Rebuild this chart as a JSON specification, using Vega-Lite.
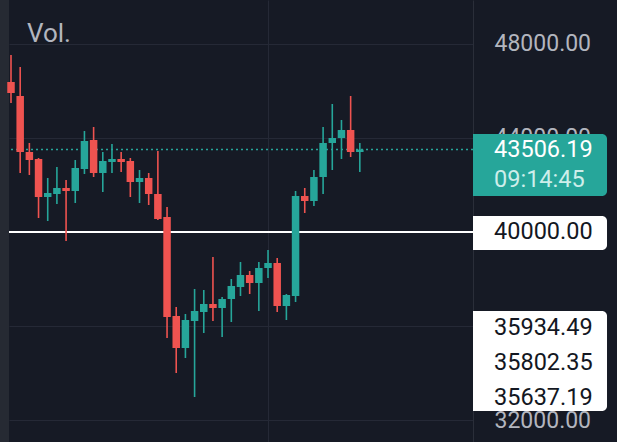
{
  "$schema": "https://vega.github.io/schema/vega-lite/v6.json",
  "width": 464,
  "height": 442,
  "autosize": "none",
  "padding": {"left": 9, "right": 144, "top": 0, "bottom": 0},
  "background": "#161a25",
  "title": {
    "text": "Vol.",
    "anchor": "start",
    "frame": "group",
    "offset": 0,
    "dx": 18,
    "dy": 68,
    "baseline": "alphabetic",
    "font": "Roboto",
    "fontSize": 26,
    "fontWeight": "normal",
    "color": "#b2b5be"
  },
  "datasets": {
    "candles": [
      {"i": 0, "open": 46383, "high": 47532, "low": 45489, "close": 45915},
      {"i": 1, "open": 45787, "high": 47021, "low": 42511, "close": 43404},
      {"i": 2, "open": 43404, "high": 43787, "low": 42426, "close": 43064},
      {"i": 3, "open": 43106, "high": 43150, "low": 40596, "close": 41489},
      {"i": 4, "open": 41489, "high": 42298, "low": 40468, "close": 41660},
      {"i": 5, "open": 41617, "high": 42766, "low": 41191, "close": 41872},
      {"i": 6, "open": 41872, "high": 42213, "low": 39617, "close": 41745},
      {"i": 7, "open": 41745, "high": 43064, "low": 41234, "close": 42723},
      {"i": 8, "open": 42681, "high": 44298, "low": 42468, "close": 43872},
      {"i": 9, "open": 43915, "high": 44468, "low": 42340, "close": 42511},
      {"i": 10, "open": 42511, "high": 43404, "low": 41702, "close": 43021},
      {"i": 11, "open": 42979, "high": 43745, "low": 42511, "close": 43106},
      {"i": 12, "open": 43106, "high": 43404, "low": 42553, "close": 42979},
      {"i": 13, "open": 43021, "high": 43149, "low": 41489, "close": 42128},
      {"i": 14, "open": 42128, "high": 42638, "low": 41234, "close": 42298},
      {"i": 15, "open": 42298, "high": 42511, "low": 41149, "close": 41617},
      {"i": 16, "open": 41617, "high": 43447, "low": 40511, "close": 40553},
      {"i": 17, "open": 40638, "high": 41064, "low": 35489, "close": 36383},
      {"i": 18, "open": 36426, "high": 36809, "low": 34000, "close": 35064},
      {"i": 19, "open": 35064, "high": 36511, "low": 34638, "close": 36255},
      {"i": 20, "open": 36213, "high": 37574, "low": 32979, "close": 36638},
      {"i": 21, "open": 36596, "high": 37532, "low": 35702, "close": 36936},
      {"i": 22, "open": 36936, "high": 38936, "low": 36213, "close": 36766},
      {"i": 23, "open": 36766, "high": 37234, "low": 35532, "close": 37149},
      {"i": 24, "open": 37149, "high": 38000, "low": 36170, "close": 37702},
      {"i": 25, "open": 37660, "high": 38723, "low": 37277, "close": 38170},
      {"i": 26, "open": 38170, "high": 38340, "low": 37362, "close": 37830},
      {"i": 27, "open": 37830, "high": 38723, "low": 36638, "close": 38468},
      {"i": 28, "open": 38468, "high": 39234, "low": 38043, "close": 38681},
      {"i": 29, "open": 38681, "high": 38894, "low": 36596, "close": 36851},
      {"i": 30, "open": 36851, "high": 37362, "low": 36255, "close": 37319},
      {"i": 31, "open": 37277, "high": 41745, "low": 37021, "close": 41532},
      {"i": 32, "open": 41532, "high": 41872, "low": 40809, "close": 41319},
      {"i": 33, "open": 41319, "high": 42638, "low": 41106, "close": 42340},
      {"i": 34, "open": 42340, "high": 44468, "low": 41617, "close": 43787},
      {"i": 35, "open": 43787, "high": 45447, "low": 42638, "close": 44000},
      {"i": 36, "open": 44000, "high": 44766, "low": 43106, "close": 44340},
      {"i": 37, "open": 44340, "high": 45787, "low": 43191, "close": 43404},
      {"i": 38, "open": 43404, "high": 43787, "low": 42553, "close": 43506.19}
    ],
    "tags": [
      {"kind": "last", "top": 44170, "bottom": 41532},
      {"kind": "level", "top": 40681, "bottom": 39234},
      {"kind": "level", "top": 36638, "bottom": 32383}
    ],
    "tagText": [
      {"kind": "last", "label": "43506.19", "at": 43506.19},
      {"kind": "timer", "label": "09:14:45", "at": 42213},
      {"kind": "level", "label": "40000.00", "at": 40000},
      {"kind": "level", "label": "35934.49", "at": 35934.49},
      {"kind": "level", "label": "35802.35", "at": 34426},
      {"kind": "level", "label": "35637.19", "at": 32936}
    ]
  },
  "layer": [
    {
      "data": {"values": [{"edge": "left"}]},
      "mark": {"type": "rect", "color": "#262a33"},
      "encoding": {
        "x": {
          "datum": -1.4,
          "type": "quantitative",
          "scale": {"domain": [-0.218, 50.33], "nice": false, "zero": false, "padding": 0},
          "axis": {"values": [28], "grid": true, "gridColor": "#252936", "labels": false, "ticks": false, "domain": false, "title": null}
        },
        "x2": {"datum": -0.218}
      }
    },
    {
      "data": {"values": [{"level": 40000}]},
      "mark": {"type": "rule", "color": "#ffffff", "strokeWidth": 2},
      "encoding": {
        "y": {
          "field": "level",
          "type": "quantitative",
          "scale": {"domain": [31064, 49872], "nice": false, "zero": false, "padding": 0},
          "axis": {
            "orient": "right",
            "values": [32000, 36000, 40000, 44000, 48000],
            "format": ".2f",
            "title": null,
            "grid": true,
            "gridColor": "#252936",
            "ticks": false,
            "domainColor": "#2a2e39",
            "labelFont": "Roboto",
            "labelFontSize": 23,
            "labelColor": "#b2b5be",
            "labelPadding": 21,
            "labelFlush": false,
            "labelOverlap": false
          }
        }
      }
    },
    {
      "data": {"values": [{"last": 43506.19}]},
      "mark": {"type": "rule", "color": "#26a69a", "strokeWidth": 1.5, "strokeDash": [2, 3]},
      "encoding": {
        "y": {
          "field": "last",
          "type": "quantitative",
          "scale": {"domain": [31064, 49872], "nice": false, "zero": false, "padding": 0},
          "axis": {
            "orient": "right",
            "values": [32000, 36000, 40000, 44000, 48000],
            "format": ".2f",
            "title": null,
            "grid": true,
            "gridColor": "#252936",
            "ticks": false,
            "domainColor": "#2a2e39",
            "labelFont": "Roboto",
            "labelFontSize": 23,
            "labelColor": "#b2b5be",
            "labelPadding": 21,
            "labelFlush": false,
            "labelOverlap": false
          }
        }
      }
    },
    {
      "data": {"name": "candles"},
      "mark": {"type": "rule", "strokeWidth": 1.6},
      "encoding": {
        "x": {
          "field": "i",
          "type": "quantitative",
          "scale": {"domain": [-0.218, 50.33], "nice": false, "zero": false, "padding": 0},
          "axis": {"values": [28], "grid": true, "gridColor": "#252936", "labels": false, "ticks": false, "domain": false, "title": null}
        },
        "y": {
          "field": "low",
          "type": "quantitative",
          "scale": {"domain": [31064, 49872], "nice": false, "zero": false, "padding": 0},
          "axis": {
            "orient": "right",
            "values": [32000, 36000, 40000, 44000, 48000],
            "format": ".2f",
            "title": null,
            "grid": true,
            "gridColor": "#252936",
            "ticks": false,
            "domainColor": "#2a2e39",
            "labelFont": "Roboto",
            "labelFontSize": 23,
            "labelColor": "#b2b5be",
            "labelPadding": 21,
            "labelFlush": false,
            "labelOverlap": false
          }
        },
        "y2": {"field": "high"},
        "color": {"condition": {"test": "datum.close > datum.open", "value": "#26a69a"}, "value": "#ef5350"}
      }
    },
    {
      "data": {"name": "candles"},
      "mark": {"type": "bar", "width": 7.5},
      "encoding": {
        "x": {
          "field": "i",
          "type": "quantitative",
          "scale": {"domain": [-0.218, 50.33], "nice": false, "zero": false, "padding": 0},
          "axis": {"values": [28], "grid": true, "gridColor": "#252936", "labels": false, "ticks": false, "domain": false, "title": null}
        },
        "y": {
          "field": "open",
          "type": "quantitative",
          "scale": {"domain": [31064, 49872], "nice": false, "zero": false, "padding": 0},
          "axis": {
            "orient": "right",
            "values": [32000, 36000, 40000, 44000, 48000],
            "format": ".2f",
            "title": null,
            "grid": true,
            "gridColor": "#252936",
            "ticks": false,
            "domainColor": "#2a2e39",
            "labelFont": "Roboto",
            "labelFontSize": 23,
            "labelColor": "#b2b5be",
            "labelPadding": 21,
            "labelFlush": false,
            "labelOverlap": false
          }
        },
        "y2": {"field": "close"},
        "color": {"condition": {"test": "datum.close > datum.open", "value": "#26a69a"}, "value": "#ef5350"}
      }
    },
    {
      "data": {"name": "tags"},
      "mark": {"type": "rect", "cornerRadiusTopRight": 5, "cornerRadiusBottomRight": 5},
      "encoding": {
        "x": {
          "datum": 50.33,
          "type": "quantitative",
          "scale": {"domain": [-0.218, 50.33], "nice": false, "zero": false, "padding": 0},
          "axis": {"values": [28], "grid": true, "gridColor": "#252936", "labels": false, "ticks": false, "domain": false, "title": null}
        },
        "x2": {"datum": 64.93},
        "y": {
          "field": "top",
          "type": "quantitative",
          "scale": {"domain": [31064, 49872], "nice": false, "zero": false, "padding": 0},
          "axis": {
            "orient": "right",
            "values": [32000, 36000, 40000, 44000, 48000],
            "format": ".2f",
            "title": null,
            "grid": true,
            "gridColor": "#252936",
            "ticks": false,
            "domainColor": "#2a2e39",
            "labelFont": "Roboto",
            "labelFontSize": 23,
            "labelColor": "#b2b5be",
            "labelPadding": 21,
            "labelFlush": false,
            "labelOverlap": false
          }
        },
        "y2": {"field": "bottom"},
        "color": {"field": "kind", "type": "nominal", "scale": {"domain": ["last", "level"], "range": ["#26a69a", "#ffffff"]}, "legend": null}
      }
    },
    {
      "data": {"name": "tagText"},
      "mark": {"type": "text", "align": "left", "baseline": "middle", "font": "Roboto", "fontSize": 23.5},
      "encoding": {
        "x": {
          "datum": 52.62,
          "type": "quantitative",
          "scale": {"domain": [-0.218, 50.33], "nice": false, "zero": false, "padding": 0},
          "axis": {"values": [28], "grid": true, "gridColor": "#252936", "labels": false, "ticks": false, "domain": false, "title": null}
        },
        "y": {
          "field": "at",
          "type": "quantitative",
          "scale": {"domain": [31064, 49872], "nice": false, "zero": false, "padding": 0},
          "axis": {
            "orient": "right",
            "values": [32000, 36000, 40000, 44000, 48000],
            "format": ".2f",
            "title": null,
            "grid": true,
            "gridColor": "#252936",
            "ticks": false,
            "domainColor": "#2a2e39",
            "labelFont": "Roboto",
            "labelFontSize": 23,
            "labelColor": "#b2b5be",
            "labelPadding": 21,
            "labelFlush": false,
            "labelOverlap": false
          }
        },
        "text": {"field": "label"},
        "color": {"field": "kind", "type": "nominal", "scale": {"domain": ["last", "timer", "level"], "range": ["#ffffff", "#cdeeea", "#131722"]}, "legend": null}
      }
    }
  ],
  "resolve": {"scale": {"color": "independent"}},
  "config": {
    "view": {"stroke": null}
  }
}
